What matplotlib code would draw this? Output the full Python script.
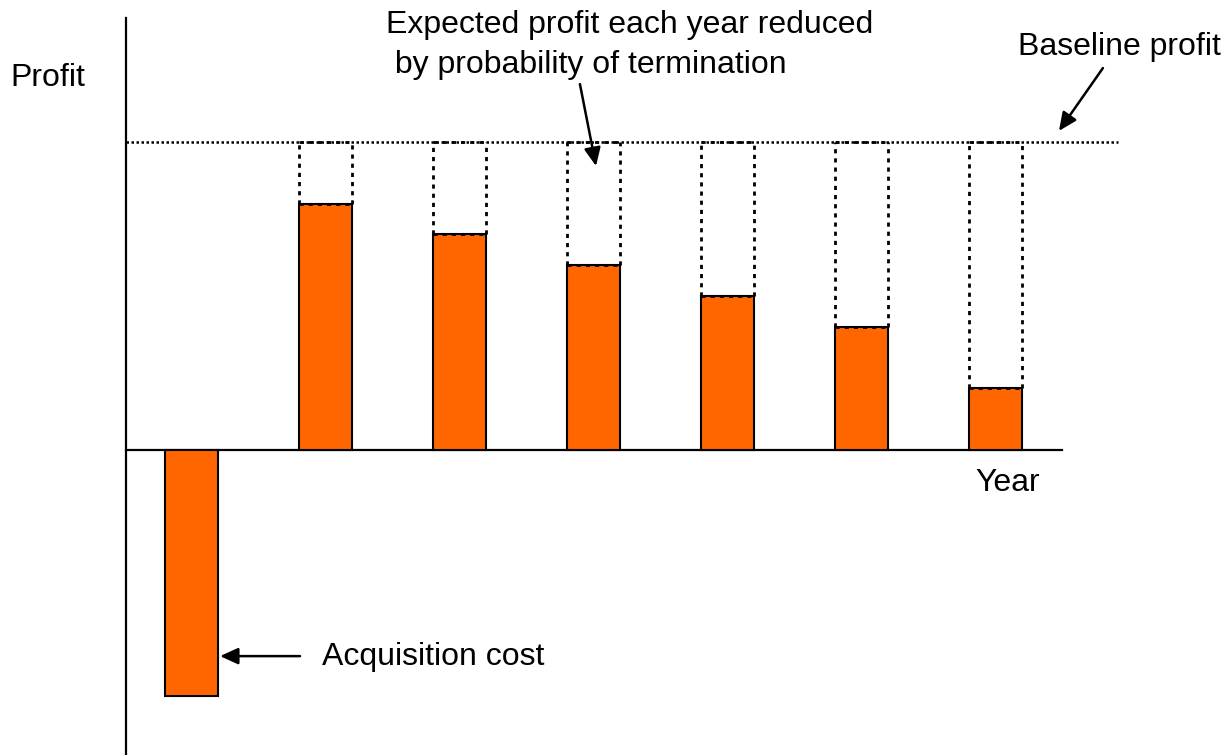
import matplotlib.pyplot as plt
import numpy as np

plt.rcParams['font.family'] = ['Liberation Sans', 'DejaVu Sans']

# year index and expected profit (baseline = 100)
years = [0, 1, 2, 3, 4, 5, 6]
profit = [-80, 80, 70, 60, 50, 40, 20]
baseline = 100

bar_color = '#FF6600'
bar_w = 0.4

fig = plt.figure(figsize=(12.29, 7.55), dpi=100)
ax = fig.add_axes([0, 0, 1, 1])
ax.set_xlim(-1.429, 7.743)
ax.set_ylim(-99.0, 146.1)
ax.axis('off')

# bars
ax.bar(years, profit, width=bar_w, color=bar_color, edgecolor='black', linewidth=1.5, zorder=3)

# dotted boxes from each positive bar up to the baseline
dash = (0, (1.5, 1.8))
for x, v in zip(years, profit):
    if v <= 0:
        continue
    for edge in (x - bar_w / 2, x + bar_w / 2):
        ax.plot([edge, edge], [v, baseline], color='black', lw=2.0,
                linestyle=dash, zorder=2)
    ax.plot([x - bar_w / 2, x + bar_w / 2], [v, v], color='black', lw=2.0,
            linestyle=dash, zorder=4)
    ax.plot([x - bar_w / 2, x + bar_w / 2], [baseline, baseline], color='black', lw=2.0,
            linestyle=dash, zorder=2)

# axes lines
ax.plot([-0.489, -0.489], [-99, 140.3], color='black', lw=1.6, zorder=5)
ax.plot([-0.489, 6.496], [0, 0], color='black', lw=1.6, zorder=2)
ax.plot([-0.489, 6.914], [baseline, baseline], color='black', lw=1.8,
        linestyle=(0, (1, 1)), zorder=2)

fs = 23
ax.text(-1.354, 120.8, 'Profit', fontsize=fs, ha='left', va='center')
ax.text(6.093, -10.7, 'Year', fontsize=fs, ha='center', va='center')
ax.text(6.929, 130.8, 'Baseline profit', fontsize=fs, ha='center', va='center')
ax.text(1.451, 131.5, 'Expected profit each year reduced\n by probability of termination',
        fontsize=fs, ha='left', va='center', linespacing=1.45)
ax.text(0.974, -67.3, 'Acquisition cost', fontsize=fs, ha='left', va='center')

arrow = dict(arrowstyle='-|>,head_length=1.1,head_width=0.5', color='black', lw=1.8,
             shrinkA=0, shrinkB=0)
ax.annotate('', xy=(0.213, -66.9), xytext=(0.81, -66.9), arrowprops=arrow)
ax.annotate('', xy=(6.474, 103.6), xytext=(6.802, 124.0), arrowprops=arrow)
ax.annotate('', xy=(3.019, 92.2), xytext=(2.899, 118.8), arrowprops=arrow)

fig.savefig('out.png', dpi=100, facecolor='white')
